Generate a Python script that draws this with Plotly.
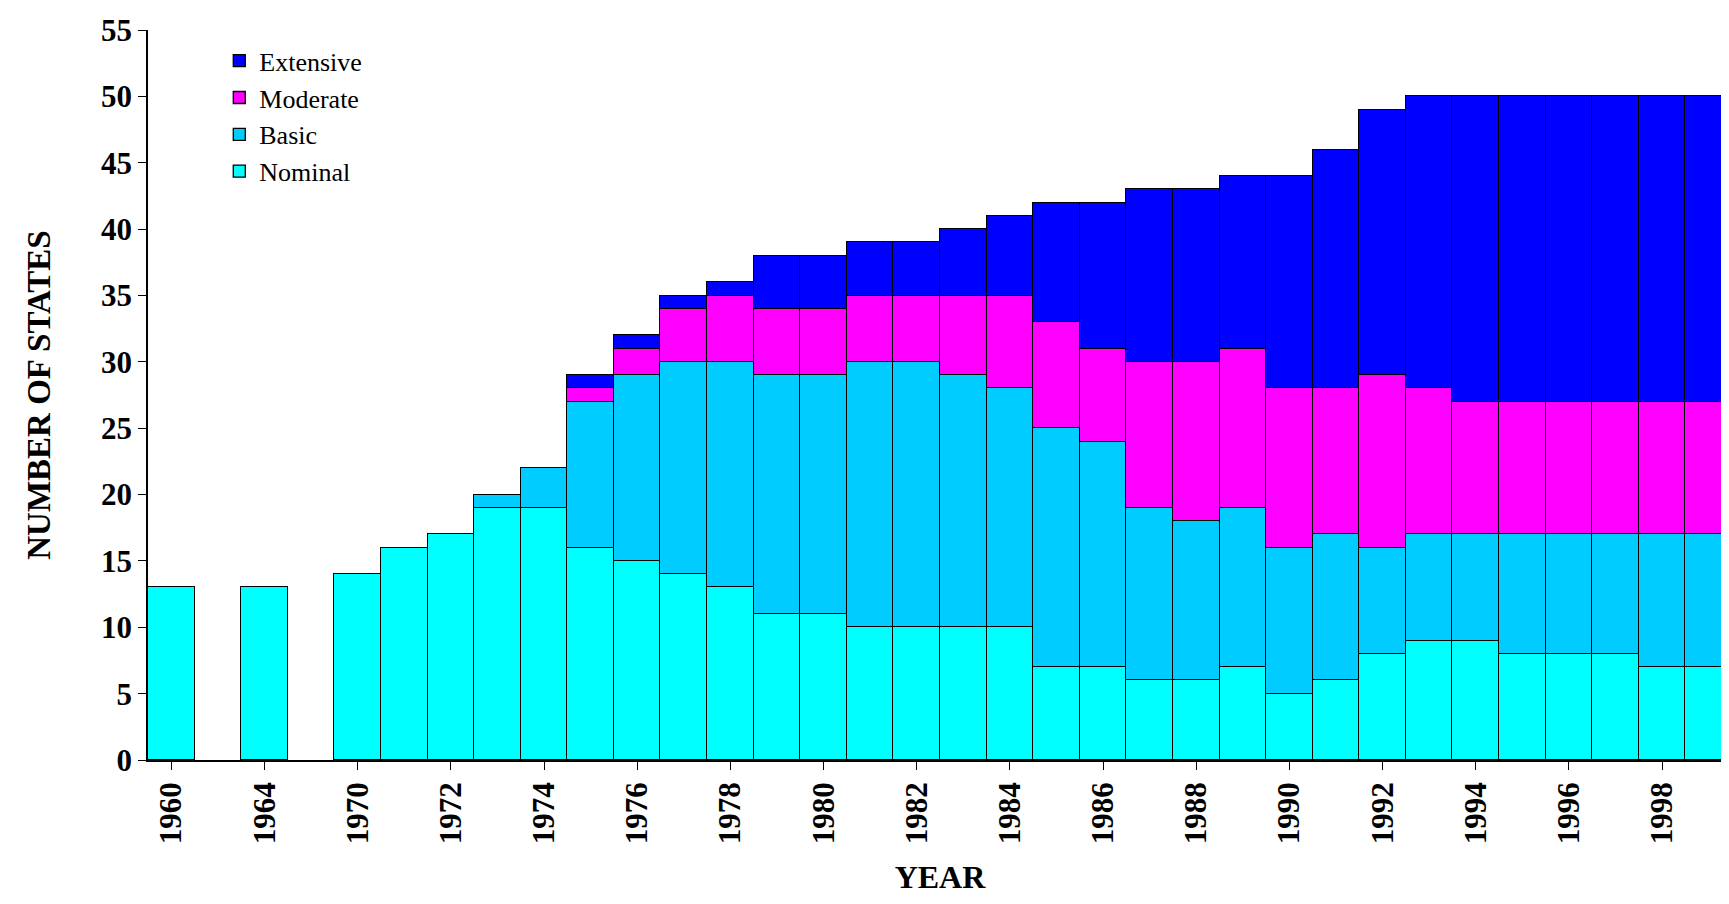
import plotly.graph_objects as go

years = ["1960", "1962", "1964", "1968"] + [str(y) for y in range(1970, 2000)]
nominal = [13, None, 13, None, 14, 16, 17, 19, 19, 16, 15, 14, 13, 11, 11, 10, 10, 10, 10, 7, 7, 6, 6, 7, 5, 6, 8, 9, 9, 8, 8, 8, 7, 7]
basic = [0, None, 0, None, 0, 0, 0, 1, 3, 11, 14, 16, 17, 18, 18, 20, 20, 19, 18, 18, 17, 13, 12, 12, 11, 11, 8, 8, 8, 9, 9, 9, 10, 10]
moderate = [0, None, 0, None, 0, 0, 0, 0, 0, 1, 2, 4, 5, 5, 5, 5, 5, 6, 7, 8, 7, 11, 12, 12, 12, 11, 13, 11, 10, 10, 10, 10, 10, 10]
extensive = [0, None, 0, None, 0, 0, 0, 0, 0, 1, 1, 1, 1, 4, 4, 4, 4, 5, 6, 9, 11, 13, 13, 13, 16, 18, 20, 22, 23, 23, 23, 23, 23, 23]
tick_years = years[::2]
y_ticks = list(range(0, 56, 5))

series = [("Nominal", nominal, "#00FFFF"), ("Basic", basic, "#00CCFF"),
          ("Moderate", moderate, "#FF00FF"), ("Extensive", extensive, "#0000FF")]

fig = go.Figure()
for name, vals, col in series:
    fig.add_trace(go.Bar(x=years, y=vals, name=name, marker=dict(color=col, line=dict(color="black", width=1.3))))

fig.update_layout(
    barmode="stack", bargap=0, width=1729, height=904,
    plot_bgcolor="white", paper_bgcolor="white",
    margin=dict(l=140, r=5, t=20, b=152),
    font=dict(family="Liberation Serif", size=25, color="black"),
    legend=dict(x=0.045, y=0.99, traceorder="reversed", font=dict(size=26, family="Liberation Serif"),
                bgcolor="rgba(0,0,0,0)", tracegroupgap=0),
    xaxis=dict(type="category", tickmode="array", tickvals=tick_years, ticktext=tick_years,
               tickangle=-90, showline=True, linecolor="black", ticks="outside", tickcolor="black",
               ticklen=8, linewidth=1.5,
               tickfont=dict(size=31, family="Liberation Serif", weight="bold"),
               title=dict(text="<b>YEAR</b>", font=dict(size=32), standoff=22)),
    yaxis=dict(range=[0, 55.01], tickmode="array", tickvals=y_ticks, showline=True, linecolor="black",
               ticks="outside", tickcolor="black", showgrid=False, zeroline=False, ticklen=8, linewidth=1.5,
               tickfont=dict(size=31, family="Liberation Serif", weight="bold"),
               title=dict(text="<b>NUMBER OF STATES</b>", font=dict(size=33), standoff=40)),
)
fig.write_html("out.html")
